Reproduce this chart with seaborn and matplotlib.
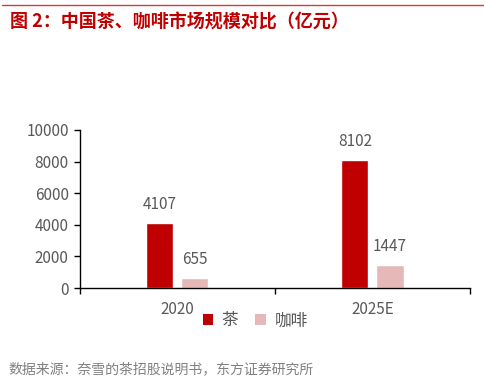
import pandas as pd
import matplotlib
matplotlib.use("Agg")
import matplotlib.pyplot as plt
from matplotlib.lines import Line2D
from matplotlib.patches import Patch
import seaborn as sns

years = ["2020", "2025E"]
series = ["茶", "咖啡"]
tea = [4107, 8102]
coffee = [655, 1447]
colors = ["#C00000", "#E6B9B8"]

title = "图 2：中国茶、咖啡市场规模对比（亿元）"
source = "数据来源：奈雪的茶招股说明书，东方证券研究所"

df = pd.DataFrame({
    "year": years * 2,
    "kind": [series[0]] * 2 + [series[1]] * 2,
    "value": tea + coffee,
})

sns.set_style("white")
plt.rcParams["font.family"] = ["Noto Sans CJK SC", "DejaVu Sans"]
grey = "#595959"

fig = plt.figure(figsize=(4.84, 3.82), dpi=100)
ax = fig.add_axes([0.165, 0.246, 0.806, 0.414])

sns.barplot(data=df, x="year", y="value", hue="kind", palette=colors,
            saturation=1, width=0.36, gap=0.23, ax=ax, legend=False)

for cont in ax.containers:
    for bar in cont:
        h = bar.get_height()
        ax.annotate(f"{h:.0f}", (bar.get_x() + bar.get_width() / 2, h),
                    xytext=(0, 7), textcoords="offset points",
                    ha="center", va="bottom", fontsize=11, color=grey)

ax.set_xlim(-0.5, 1.5)
ax.set_ylim(0, 10000)
ax.set_yticks(range(0, 10001, 2000))
ax.set_xlabel("")
ax.set_ylabel("")
for s in ["top", "right"]:
    ax.spines[s].set_visible(False)
for s in ["left", "bottom"]:
    ax.spines[s].set_color("black")
    ax.spines[s].set_linewidth(1)
ax.tick_params(axis="y", which="major", length=4, width=1, color="black",
               labelsize=11, labelcolor=grey, left=True, pad=4)
ax.tick_params(axis="x", which="major", length=0, labelsize=11,
               labelcolor=grey, pad=9)
ax.set_xticks([-0.5, 0.5, 1.5], minor=True)
ax.tick_params(axis="x", which="minor", length=4, width=1, color="black",
               bottom=True, direction="out")

handles = [Patch(facecolor=c, edgecolor="none") for c in colors]
fig.legend(handles, series, loc="center", bbox_to_anchor=(0.527, 0.16),
           ncol=2, frameon=False, fontsize=12, labelcolor=grey,
           handlelength=0.65, handleheight=0.65, handletextpad=0.5,
           columnspacing=1.0)

fig.add_artist(Line2D([0.005, 1.0], [0.987, 0.987], color="#D9383A",
                      linewidth=1, transform=fig.transFigure))
fig.text(0.02, 0.942, title, color="#C00000", fontsize=13,
         fontweight="bold", ha="left", va="center")
fig.text(0.017, 0.034, source, color="#808080", fontsize=10,
         ha="left", va="center")

fig.savefig("out.png", dpi=100)
